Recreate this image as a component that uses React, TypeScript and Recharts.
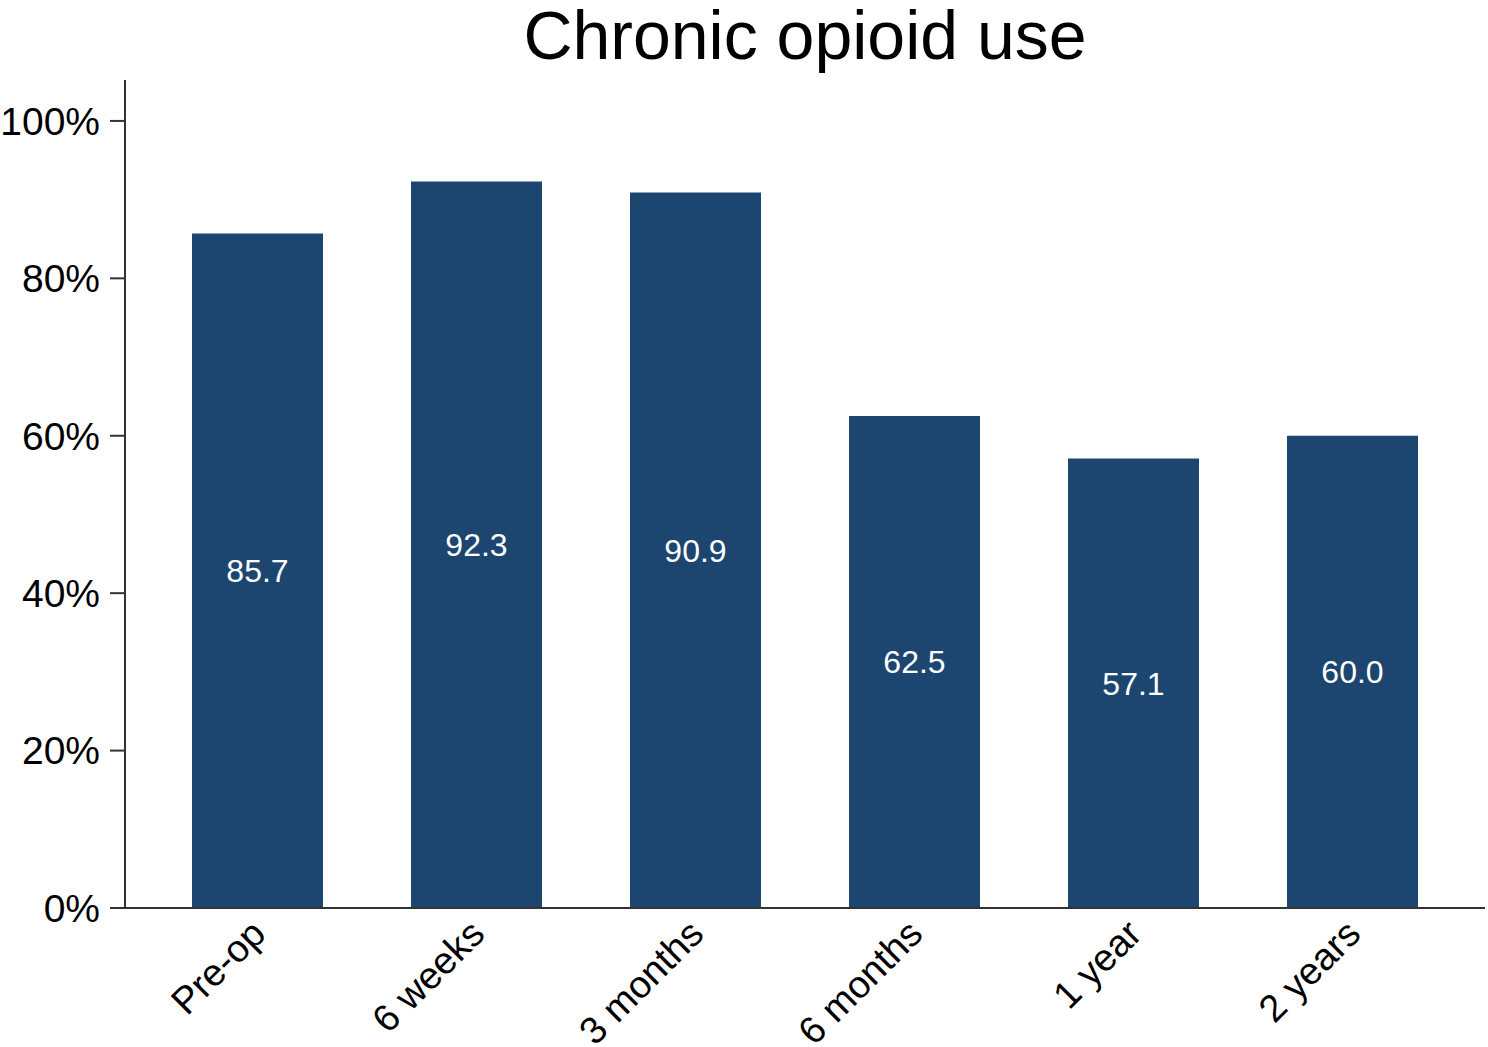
import React from "react";
import { BarChart, Bar, XAxis, YAxis, LabelList } from "recharts";

const categories = ["Pre-op", "6 weeks", "3 months", "6 months", "1 year", "2 years"];
const usePct = [85.7, 92.3, 90.9, 62.5, 57.1, 60.0];
const yTicks = [0, 20, 40, 60, 80, 100];

const data = categories.map((c, i) => ({ period: c, value: usePct[i] }));

const FONT = "'Liberation Sans', Arial, sans-serif";
const BAR = "#1c4670";
const AXIS = "#333333";

function XTick(props: any) {
  const { x, y, payload } = props;
  return (
    <g transform={`translate(${x - 10},${y}) rotate(-45)`}>
      <text textAnchor="end" dy="0.75em" fontSize={38} fill="#000" fontFamily={FONT}>
        {payload.value}
      </text>
    </g>
  );
}

export default function App() {
  return (
    <div style={{ position: "absolute", left: 0, top: 0, width: 1488, height: 1047, background: "#fff", fontFamily: FONT }}>
      <div style={{ position: "absolute", left: 125, width: 1360, top: 2, textAlign: "center", fontSize: 68, lineHeight: "66px", color: "#000" }}>
        Chronic opioid use
      </div>
      <BarChart
        width={1488}
        height={1047}
        data={data}
        margin={{ top: 80, right: 3, left: 0, bottom: 0 }}
        barCategoryGap={44}
      >
        <XAxis
          dataKey="period"
          padding={{ left: 23, right: 23 }}
          axisLine={{ stroke: AXIS, strokeWidth: 2 }}
          tickLine={false}
          tick={<XTick />}
          interval={0}
          height={139}
        />
        <YAxis
          width={125}
          domain={[0, 105.2]}
          ticks={yTicks}
          tickFormatter={(v: number) => `${v}%`}
          axisLine={{ stroke: AXIS, strokeWidth: 2 }}
          tickLine={{ stroke: AXIS, strokeWidth: 2 }}
          tickSize={15}
          tickMargin={10}
          tick={{ fontSize: 39, fill: "#000", fontFamily: FONT }}
          allowDataOverflow
        />
        <Bar dataKey="value" fill={BAR} isAnimationActive={false}>
          <LabelList
            dataKey="value"
            position="center"
            fill="#fff"
            fontSize={32}
            fontFamily={FONT}
            formatter={(v: any) => Number(v).toFixed(1)}
          />
        </Bar>
      </BarChart>
    </div>
  );
}
